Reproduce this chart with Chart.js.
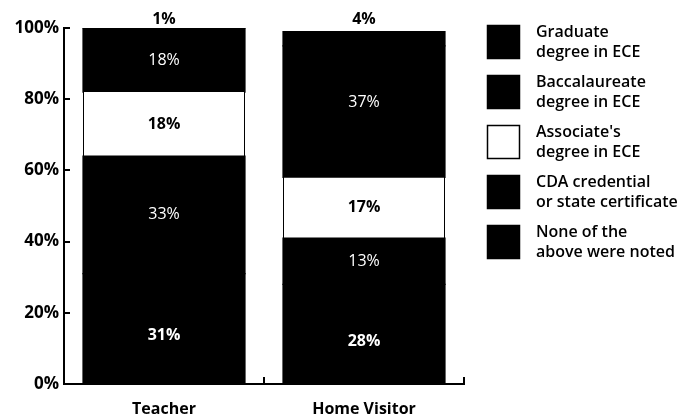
<!DOCTYPE html>
<html>
<head>
<meta charset="utf-8">
<script src="https://cdn.jsdelivr.net/npm/chart.js@4/dist/chart.umd.min.js"></script>
<style>
  body { margin: 0; background: #fff; }
  #wrap { width: 684px; height: 416px; }
</style>
</head>
<body>
<div id="wrap"><canvas id="chart" width="684" height="416"></canvas></div>
<script>
const categories = ['Teacher', 'Home Visitor'];
const noneNoted = [31, 28];
const cdaCredential = [33, 13];
const associates = [18, 17];
const baccalaureate = [18, 37];
const graduate = [1, 4];
const yTicks = [0, 20, 40, 60, 80, 100];
const seriesNames = [
    'None of the\nabove were noted',
    'CDA credential\nor state certificate',
    'Associate\'s\ndegree in ECE',
    'Baccalaureate\ndegree in ECE',
    'Graduate\ndegree in ECE'
];

const FONT = '"Open Sans", "Noto Sans", sans-serif';

// label look per dataset: [weight, colour, position]
const labelStyles = [
    ['bold', '#fff', 'low'],
    ['normal', '#fff', 'mid'],
    ['bold', '#000', 'mid'],
    ['normal', '#fff', 'toTop'],
    ['bold', '#000', 'above']
];

function makeSet(i, data, fill) {
    return {
        label: seriesNames[i],
        data: data,
        backgroundColor: fill,
        borderColor: '#000',
        borderWidth: fill === '#fff' ? { left: 1, right: 1, top: 0, bottom: 0 } : 0,
        borderSkipped: false,
        inflateAmount: fill === '#fff' ? 0 : 0.6,
        barPercentage: 0.81,
        categoryPercentage: 1
    };
}

const barLabels = {
    id: 'barLabels',
    afterDatasetsDraw(chart) {
        const ctx = chart.ctx;
        const area = chart.chartArea;
        ctx.save();
        ctx.textAlign = 'center';
        ctx.textBaseline = 'middle';
        chart.data.datasets.forEach((ds, i) => {
            const meta = chart.getDatasetMeta(i);
            const st = labelStyles[i];
            meta.data.forEach((bar, j) => {
                let y;
                if (st[2] === 'above') {
                    y = area.top - 9;
                } else if (st[2] === 'toTop') {
                    y = (bar.base + area.top) / 2;
                } else if (st[2] === 'low') {
                    y = (bar.base + bar.y) / 2 + 7;
                } else {
                    y = (bar.base + bar.y) / 2;
                }
                ctx.font = st[0] + ' 16px ' + FONT;
                ctx.fillStyle = st[1];
                ctx.fillText(ds.data[j] + '%', bar.x, y);
            });
        });
        ctx.restore();
    }
};

const axisMarks = {
    id: 'axisMarks',
    afterDraw(chart) {
        const ctx = chart.ctx;
        const area = chart.chartArea;
        const y = chart.scales.y;
        const x = chart.scales.x;
        ctx.save();
        ctx.strokeStyle = '#000';
        ctx.lineWidth = 2;
        ctx.beginPath();
        yTicks.forEach(v => {
            const py = Math.round(y.getPixelForValue(v));
            ctx.moveTo(area.left, py);
            ctx.lineTo(area.left + 6, py);
        });
        const step = (area.right - area.left) / categories.length;
        for (let k = 1; k <= categories.length; k++) {
            const px = Math.round(x.getPixelForValue(k - 1) + step / 2);
            ctx.moveTo(px, area.bottom);
            ctx.lineTo(px, area.bottom - 7);
        }
        ctx.stroke();

        // legend, top entry = top of the stack
        const sets = chart.data.datasets.slice().reverse();
        sets.forEach((ds, k) => {
            const top = 25 + k * 50;
            ctx.fillStyle = ds.backgroundColor;
            ctx.fillRect(487, top, 33, 34);
            ctx.lineWidth = 1.5;
            ctx.strokeRect(487.5, top + 0.5, 32, 33);
            ctx.fillStyle = '#000';
            ctx.font = '600 16px ' + FONT;
            ctx.textAlign = 'left';
            ctx.textBaseline = 'middle';
            const lines = ds.label.split('\n');
            ctx.fillText(lines[0], 536, top + 7);
            ctx.fillText(lines[1], 536, top + 27);
        });
        ctx.restore();
    }
};

new Chart(document.getElementById('chart'), {
    type: 'bar',
    data: {
        labels: categories,
        datasets: [
            makeSet(0, noneNoted, '#000'),
            makeSet(1, cdaCredential, '#000'),
            makeSet(2, associates, '#fff'),
            makeSet(3, baccalaureate, '#000'),
            makeSet(4, graduate, '#000')
        ]
    },
    options: {
        responsive: false,
        animation: false,
        devicePixelRatio: 1,
        layout: { padding: { left: 14, right: 220, top: 28, bottom: 0 } },
        plugins: {
            legend: { display: false },
            tooltip: { enabled: false }
        },
        scales: {
            x: {
                stacked: true,
                grid: { display: false, drawTicks: false },
                border: { display: true, color: '#000', width: 2 },
                ticks: { color: '#000', padding: 16, font: { family: FONT, size: 16, weight: 'bold' } },
                afterFit: s => { s.height = 32; }
            },
            y: {
                stacked: true,
                min: 0,
                max: 100,
                afterBuildTicks: s => { s.ticks = yTicks.map(v => ({ value: v })); },
                grid: { display: false, drawTicks: false },
                border: { display: true, color: '#000', width: 2 },
                ticks: {
                    color: '#000',
                    padding: 5,
                    font: { family: FONT, size: 17, weight: 'bold' },
                    callback: v => v + '%'
                },
                afterFit: s => { s.width = 50; }
            }
        }
    },
    plugins: [barLabels, axisMarks]
});
</script>
</body>
</html>
